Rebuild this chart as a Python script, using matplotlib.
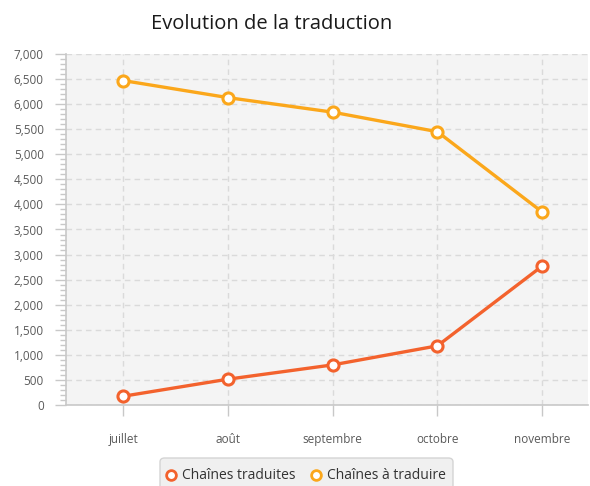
import matplotlib.pyplot as plt
from matplotlib.ticker import MultipleLocator, FuncFormatter
from matplotlib.patches import FancyBboxPatch
from matplotlib.lines import Line2D

plt.rcParams['font.family'] = ['Open Sans', 'DejaVu Sans']

months = ["juillet", "août", "septembre", "octobre", "novembre"]
traduites = [175, 515, 800, 1180, 2770]
a_traduire = [6470, 6130, 5840, 5450, 3850]

RED = '#f3622d'
ORANGE = '#fba71b'
AXIS = '#c8c8c8'
GRID = '#dadada'
TEXT = '#5a5a5a'

fig = plt.figure(figsize=(5.9, 4.86), dpi=100)
ax = fig.add_axes([66 / 590, 81 / 486, 522 / 590, 351 / 486])
ax.set_facecolor('#f4f4f4')

x = list(range(len(months)))
for vals, col in [(traduites, RED), (a_traduire, ORANGE)]:
    ax.plot(x, vals, color=col, lw=2.4, zorder=3,
            marker='o', ms=8, mfc='white', mec=col, mew=2.2)

ax.set_xlim(-0.547, 4.438)
ax.set_ylim(0, 7000)

ax.yaxis.set_major_locator(MultipleLocator(500))
ax.yaxis.set_minor_locator(MultipleLocator(100))
ax.yaxis.set_major_formatter(FuncFormatter(lambda v, p: f"{int(v):,}"))
ax.set_xticks(x)
ax.set_xticklabels(months)

ax.grid(True, which='major', color=GRID, ls=(0, (4, 3)), lw=1)
ax.set_axisbelow(True)

for s in ['top', 'right']:
    ax.spines[s].set_visible(False)
for s in ['left', 'bottom']:
    ax.spines[s].set_color(AXIS)
    ax.spines[s].set_linewidth(1.2)

ax.tick_params(axis='y', which='major', length=8, color=AXIS, width=1,
               labelsize=8.5, labelcolor=TEXT, pad=8)
ax.tick_params(axis='y', which='minor', length=4, color=AXIS, width=1)
ax.tick_params(axis='x', length=8, color=AXIS, width=1,
               labelsize=8.5, labelcolor=TEXT, pad=12)

fig.text(272 / 590, 1 - 24 / 486, "Evolution de la traduction",
         ha='center', va='center', fontsize=14.5, color='#1a1a1a')

# legend box at the bottom, partly cut by the figure edge
box = FancyBboxPatch((160 / 590, -10 / 486), 293 / 590, 38 / 486,
                     boxstyle='round,pad=0,rounding_size=0.008',
                     transform=fig.transFigure, facecolor='#f0f0f0',
                     edgecolor='#d4d4d4', lw=1)
fig.add_artist(box)
for lx, label, col in [(171, "Chaînes traduites", RED), (316, "Chaînes à traduire", ORANGE)]:
    fig.add_artist(Line2D([lx / 590], [1 - 475 / 486], transform=fig.transFigure,
                          marker='o', ms=7, mfc='white', mec=col, mew=2))
    fig.text((lx + 11) / 590, 1 - 475 / 486, label, ha='left', va='center',
             fontsize=10, color='#333333')

fig.savefig('out.png', dpi=100)
